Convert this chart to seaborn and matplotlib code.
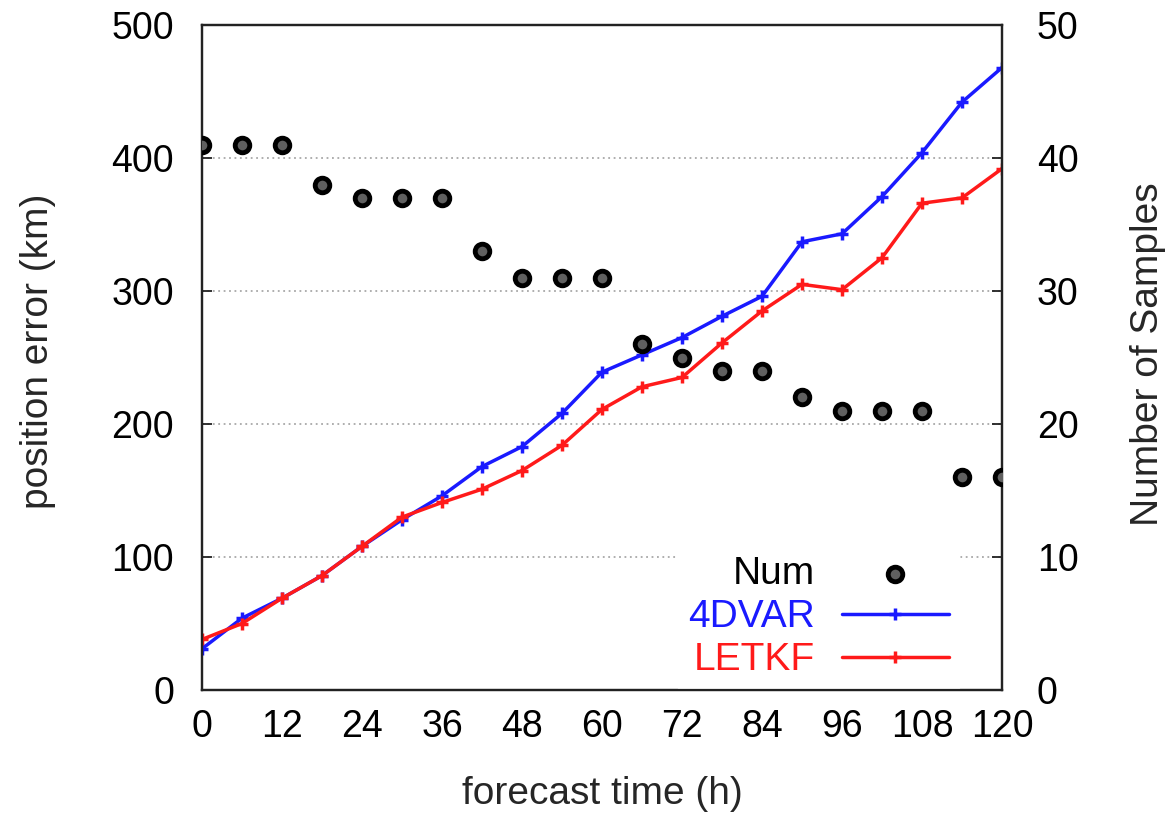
import matplotlib
matplotlib.use("Agg")
import matplotlib.pyplot as plt
import pandas as pd
import seaborn as sns

# forecast lead time (h)
HOURS = [0, 6, 12, 18, 24, 30, 36, 42, 48, 54, 60, 66, 72, 78, 84, 90, 96, 102, 108, 114, 120]
# typhoon position error (km)
ERR_4DVAR = [31, 54, 69, 86, 108, 128, 146, 168, 183, 208, 239, 252, 265, 281, 296,
             337, 343, 371, 404, 442, 468]
ERR_LETKF = [38, 50, 69, 86, 108, 130, 141, 151, 165, 184, 211, 228, 235, 261, 285,
             305, 301, 325, 366, 370, 392]
# number of verification samples
NUM_SAMPLES = [41, 41, 41, 38, 37, 37, 37, 33, 31, 31, 31, 26, 25, 24, 24, 22, 21, 21, 21, 16, 16]

X_TICKS = list(range(0, 121, 12))
Y_TICKS = [0, 100, 200, 300, 400, 500]
Y2_TICKS = [0, 10, 20, 30, 40, 50]

BLUE = "#1a1aff"
RED = "#ff1a1a"

sns.set_theme(style="white")
plt.rcParams["font.family"] = ["Liberation Sans", "DejaVu Sans"]

df = pd.DataFrame({"hour": HOURS, "4DVAR": ERR_4DVAR, "LETKF": ERR_LETKF, "Num": NUM_SAMPLES})

fig = plt.figure(figsize=(11.73, 8.14), dpi=100)
ax = fig.add_axes([202 / 1173, 124 / 814, 800 / 1173, 665 / 814])
ax2 = ax.twinx()

line_kw = dict(marker="+", markersize=8, markeredgewidth=2.5, linewidth=2.5, linestyle="-")
sns.lineplot(data=df, x="hour", y="4DVAR", ax=ax, color=BLUE, markeredgecolor=BLUE,
             label="4DVAR", **line_kw)
sns.lineplot(data=df, x="hour", y="LETKF", ax=ax, color=RED, markeredgecolor=RED,
             label="LETKF", **line_kw)
sns.scatterplot(data=df, x="hour", y="Num", ax=ax2, s=110, color="#606060",
                edgecolor="black", linewidth=3.5, label="Num", zorder=5)

ax.set_xlim(0, 120)
ax.set_ylim(0, 500)
ax2.set_ylim(0, 50)
ax.set_xticks(X_TICKS)
ax.set_yticks(Y_TICKS)
ax2.set_yticks(Y2_TICKS)

for y in Y_TICKS[1:-1]:
    ax.axhline(y, color="#a8a8a8", linestyle=(0, (1, 2)), linewidth=1.3, zorder=0)

for a in (ax, ax2):
    for sp in a.spines.values():
        sp.set_linewidth(1.6)
        sp.set_color("#222222")
ax.tick_params(axis="x", direction="in", length=7, width=1.3, pad=14, labelsize=27,
               colors="#222222", labelcolor="black")
ax.tick_params(axis="y", direction="in", length=7, width=1.3, pad=20, labelsize=27,
               colors="#222222", labelcolor="black")
ax2.tick_params(axis="y", direction="in", length=7, width=1.3, pad=25, labelsize=27,
                colors="#222222", labelcolor="black")

ax.set_xlabel("forecast time (h)", fontsize=28)
ax.set_ylabel("position error (km)", fontsize=28)
ax2.set_ylabel("Number of Samples", fontsize=28)
ax.xaxis.set_label_coords(0.5, -0.130)
ax.yaxis.set_label_coords(-0.183, 0.51)
ax2.yaxis.set_label_coords(1.16, 0.505)

if ax.get_legend():
    ax.get_legend().remove()
if ax2.get_legend():
    ax2.get_legend().remove()
h1, l1 = ax.get_legend_handles_labels()
h2, l2 = ax2.get_legend_handles_labels()
leg = ax2.legend(h2 + h1, l2 + l1, loc="lower right", bbox_to_anchor=(0.97, -0.026),
                 markerfirst=False, numpoints=1, scatterpoints=1, fontsize=28,
                 handlelength=2.75, handletextpad=0.7, labelspacing=0.18,
                 borderpad=0.25, frameon=True, fancybox=False, framealpha=1,
                 facecolor="white", edgecolor="white")
for txt, col in zip(leg.get_texts(), ["black", BLUE, RED]):
    txt.set_color(col)
# keep the white key box under the frame so the bottom spine stays visible
leg.set_zorder(2)

fig.savefig("out.png", dpi=100)
